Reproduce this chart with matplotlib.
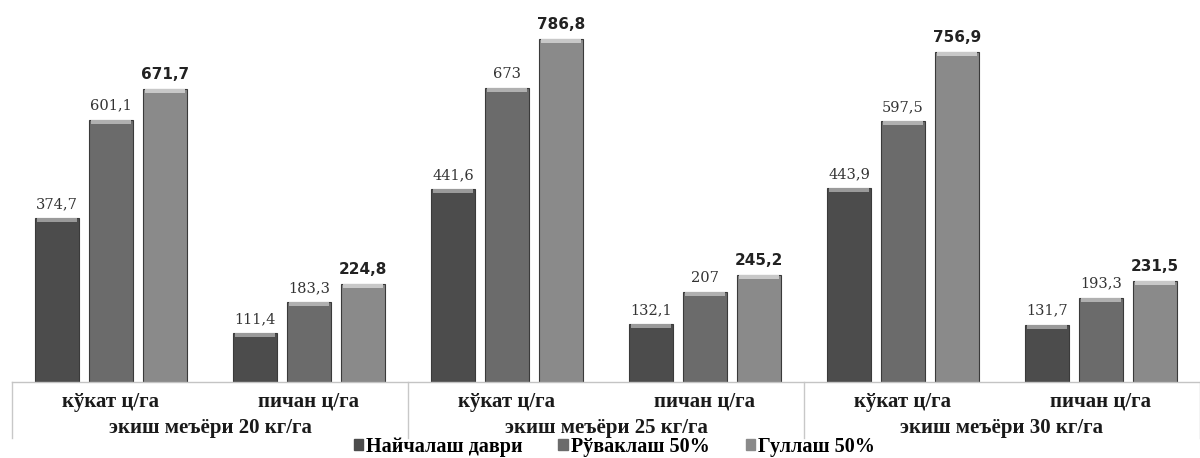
import matplotlib.pyplot as plt
from matplotlib.transforms import blended_transform_factory

# data
subcats = ["кўкат ц/га", "пичан ц/га"] * 3
groups = ["экиш меъёри 20 кг/га", "экиш меъёри 25 кг/га", "экиш меъёри 30 кг/га"]
series = ["Найчалаш даври", "Рўваклаш 50%", "Гуллаш 50%"]
nay = [374.7, 111.4, 441.6, 132.1, 443.9, 131.7]
ruv = [601.1, 183.3, 673, 207, 597.5, 193.3]
gul = [671.7, 224.8, 786.8, 245.2, 756.9, 231.5]

colors = ["#4c4c4c", "#6b6b6b", "#8a8a8a"]
caps = ["#9a9a9a", "#b0b0b0", "#c8c8c8"]


def fmt(v):
    s = f"{v:.1f}".replace(".", ",")
    return s[:-2] if s.endswith(",0") else s


fig = plt.figure(figsize=(12, 4.58), dpi=100)
fig.patch.set_facecolor("white")
ax = fig.add_axes([12 / 1200, 76 / 458, 1188 / 1200, 382 / 458])

ymax = 875
width = 0.222
step = 0.273
x = [i + 0.5 for i in range(len(subcats))]
cap_h = ymax * 4 / 382

for k, vals in enumerate([nay, ruv, gul]):
    xs = [xi + (k - 1) * step for xi in x]
    ax.bar(xs, vals, width=width, color=colors[k], edgecolor="#3a3a3a", linewidth=0.8)
    # lighter top cap for the bevel look
    ax.bar(xs, [cap_h] * len(vals), bottom=[v - cap_h for v in vals], width=width * 0.92,
           color=caps[k], linewidth=0)
    for xi, v in zip(xs, vals):
        if k == 2:
            ax.annotate(fmt(v), (xi, v), xytext=(0, 5), textcoords="offset points",
                        ha="center", va="bottom", fontsize=11, fontweight="bold",
                        family="DejaVu Sans", color="#222222")
        else:
            ax.annotate(fmt(v), (xi, v), xytext=(0, 5), textcoords="offset points",
                        ha="center", va="bottom", fontsize=10.5,
                        family="DejaVu Serif", color="#333333")

ax.set_xlim(0, 6)
ax.set_ylim(0, ymax)
ax.set_yticks([])
ax.set_xticks([])
for side in ["top", "right", "left"]:
    ax.spines[side].set_visible(False)
ax.spines["bottom"].set_color("#c4c4c4")
ax.spines["bottom"].set_linewidth(1.0)

# category / group label box
tr = blended_transform_factory(ax.transData, ax.transAxes)
px = 1 / 382
for xb in [0, 2, 4, 6]:
    ax.plot([xb, xb], [0, -56 * px], transform=tr, color="#c8c8c8", lw=1.0, clip_on=False)
for xi, lab in zip(x, subcats):
    ax.text(xi, -20 * px, lab, transform=tr, ha="center", va="center", fontsize=15,
            fontweight="bold", family="Liberation Serif", color="#1a1a1a")
for g, lab in enumerate(groups):
    ax.text(2 * g + 1, -46 * px, lab, transform=tr, ha="center", va="center", fontsize=15,
            fontweight="bold", family="Liberation Serif", color="#1a1a1a")

handles = [plt.Rectangle((0, 0), 1, 1, color=c) for c in colors]
fig.legend(handles, series, loc="center", bbox_to_anchor=(614 / 1200, 1 - 447 / 458),
           ncol=3, frameon=False, handlelength=0.45, handleheight=0.45, handletextpad=0.15,
           columnspacing=1.8, borderpad=0,
           prop={"family": "Liberation Serif", "weight": "bold", "size": 14.5})

fig.savefig("out.png", dpi=100, facecolor="white")
